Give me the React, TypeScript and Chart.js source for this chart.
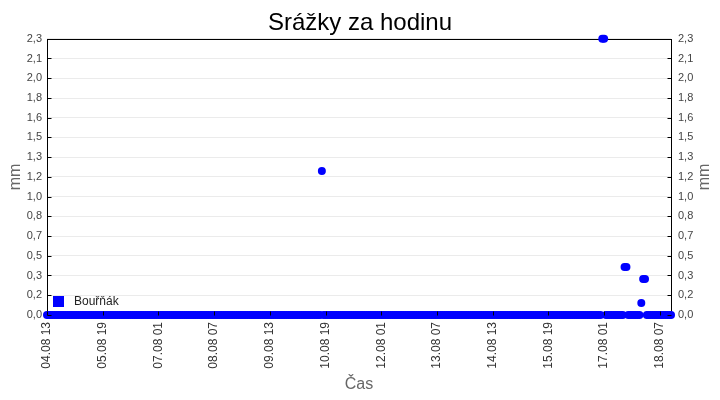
import React, { useRef, useEffect } from 'react'
import Chart from 'chart.js/auto'

// hourly readings, first one 04.08 13:00, last one 18.08 13:00
const startDay = 4
const startHour = 13
const hourCount = 337

const pad2 = (n: number) => (n < 10 ? '0' + n : '' + n)

const hourLabels: string[] = []
for (let i = 0; i < hourCount; i++) {
  const day = startDay + Math.floor((startHour + i) / 24)
  const hour = (startHour + i) % 24
  hourLabels.push(pad2(day) + '.08 ' + pad2(hour))
}

// hours with some rain (everything else reads 0,0)
const rainTimes = ['10.08 17', '17.08 00', '17.08 01', '17.08 12', '17.08 13', '17.08 21', '17.08 22', '17.08 23']
const rainValues = [1.2, 2.3, 2.3, 0.4, 0.4, 0.1, 0.3, 0.3]

const rainSeries = hourLabels.map((t) => {
  const k = rainTimes.indexOf(t)
  return k >= 0 ? rainValues[k] : 0
})

const yMax = 2.3
const yTickValues = [0, 0.164, 0.329, 0.493, 0.657, 0.821, 0.986, 1.15, 1.314, 1.479, 1.643, 1.807, 1.971, 2.136, 2.3]
const yTickLabels = ['0,0', '0,2', '0,3', '0,5', '0,7', '0,8', '1,0', '1,2', '1,3', '1,5', '1,6', '1,8', '2,0', '2,1', '2,3']
const xLabelEvery = 30

const seriesName = 'Bouřňák'
const seriesColor = '#0000ff'
const fontFamily = '"Liberation Sans", Arial, sans-serif'

const framePlugin = {
  id: 'frame',
  beforeDatasetsDraw(chart: any) {
    const { ctx, chartArea } = chart
    const l = Math.round(chartArea.left) + 0.5
    const t = Math.round(chartArea.top) + 0.5
    const r = Math.round(chartArea.right) + 0.5
    const b = Math.round(chartArea.bottom) + 0.5
    ctx.save()
    ctx.strokeStyle = '#000'
    ctx.lineWidth = 1
    ctx.strokeRect(l, t, r - l, b - t)
    ctx.restore()
  },
  afterDatasetsDraw(chart: any) {
    const { ctx, chartArea, scales } = chart
    const l = Math.round(chartArea.left) + 0.5
    const r = Math.round(chartArea.right) + 0.5
    const b = Math.round(chartArea.bottom) + 0.5
    ctx.save()
    ctx.strokeStyle = '#000'
    ctx.lineWidth = 1
    ctx.beginPath()
    yTickValues.forEach((v) => {
      const y = Math.round(scales.y.getPixelForValue(v)) + 0.5
      ctx.moveTo(l, y)
      ctx.lineTo(l + 4, y)
      ctx.moveTo(r, y)
      ctx.lineTo(r - 4, y)
    })
    for (let i = 0; i < hourLabels.length; i += xLabelEvery) {
      const x = Math.round(scales.x.getPixelForValue(i)) + 0.5
      ctx.moveTo(x, b)
      ctx.lineTo(x, b - 4)
    }
    ctx.stroke()

    // legend in the lower left corner
    ctx.fillStyle = seriesColor
    ctx.fillRect(chartArea.left + 6, chartArea.bottom - 19, 11, 11)
    ctx.fillStyle = '#222'
    ctx.font = '12px ' + fontFamily
    ctx.textBaseline = 'middle'
    ctx.textAlign = 'left'
    ctx.fillText(seriesName, chartArea.left + 27, chartArea.bottom - 13)

    // right axis title, read bottom to top like the left one
    ctx.fillStyle = '#666'
    ctx.font = '16px ' + fontFamily
    ctx.textAlign = 'center'
    ctx.translate(chart.width - 15, (chartArea.top + chartArea.bottom) / 2)
    ctx.rotate(-Math.PI / 2)
    ctx.fillText('mm', 0, 0)
    ctx.restore()
  },
}

export default function App() {
  const chartRef = useRef<HTMLCanvasElement>(null)

  useEffect(() => {
    document.body.style.margin = '0'
    if (!chartRef.current) return
    const ctx = chartRef.current.getContext('2d')
    if (!ctx) return

    const yTicks = (scale: any) => {
      scale.ticks = yTickValues.map((v) => ({ value: v }))
    }

    const chart = new Chart(ctx, {
      type: 'line',
      data: {
        labels: hourLabels,
        datasets: [
          {
            label: seriesName,
            data: rainSeries,
            showLine: false,
            pointRadius: 4,
            pointHoverRadius: 4,
            pointBackgroundColor: seriesColor,
            pointBorderColor: seriesColor,
            pointBorderWidth: 0,
            clip: false,
          } as any,
        ],
      },
      options: {
        animation: false,
        responsive: true,
        maintainAspectRatio: false,
        layout: { padding: 0 },
        font: { family: fontFamily },
        plugins: {
          legend: { display: false },
          tooltip: { enabled: false },
          title: {
            display: true,
            text: 'Srážky za hodinu',
            color: '#000',
            font: { size: 24, weight: 'normal', family: fontFamily },
            padding: { top: 9, bottom: 1 },
          },
        },
        scales: {
          x: {
            type: 'category',
            grid: { display: false, drawTicks: false },
            border: { display: false },
            ticks: {
              autoSkip: false,
              maxRotation: 90,
              minRotation: 90,
              padding: 7,
              color: '#333',
              font: { size: 12, family: fontFamily },
              callback: (_v: any, i: number) => (i % xLabelEvery === 0 ? hourLabels[i] : null),
            },
            title: {
              display: true,
              text: 'Čas',
              color: '#666',
              font: { size: 16, family: fontFamily },
              padding: { top: 0, bottom: 6 },
            },
            afterFit: (scale: any) => {
              scale.height = 85
            },
          },
          y: {
            position: 'left',
            min: 0,
            max: yMax,
            afterBuildTicks: yTicks,
            grid: { color: '#ebebeb', drawTicks: false },
            border: { display: false },
            ticks: {
              padding: 5,
              color: '#444',
              font: { size: 11, family: fontFamily },
              callback: (_v: any, i: number) => yTickLabels[i],
            },
            title: {
              display: true,
              text: 'mm',
              color: '#666',
              font: { size: 16, family: fontFamily },
              padding: { top: 6, bottom: 0 },
            },
            afterFit: (scale: any) => {
              scale.width = 47
            },
          },
          y2: {
            position: 'right',
            min: 0,
            max: yMax,
            afterBuildTicks: yTicks,
            grid: { display: false, drawTicks: false },
            border: { display: false },
            ticks: {
              padding: 7,
              color: '#444',
              font: { size: 11, family: fontFamily },
              callback: (_v: any, i: number) => yTickLabels[i],
            },
            afterFit: (scale: any) => {
              scale.width = 49
            },
          },
        },
      },
      plugins: [framePlugin],
    })

    return () => {
      chart.destroy()
    }
  }, [])

  return (
    <div style={{ position: 'relative', width: 720, height: 400 }}>
      <canvas ref={chartRef}></canvas>
    </div>
  )
}
